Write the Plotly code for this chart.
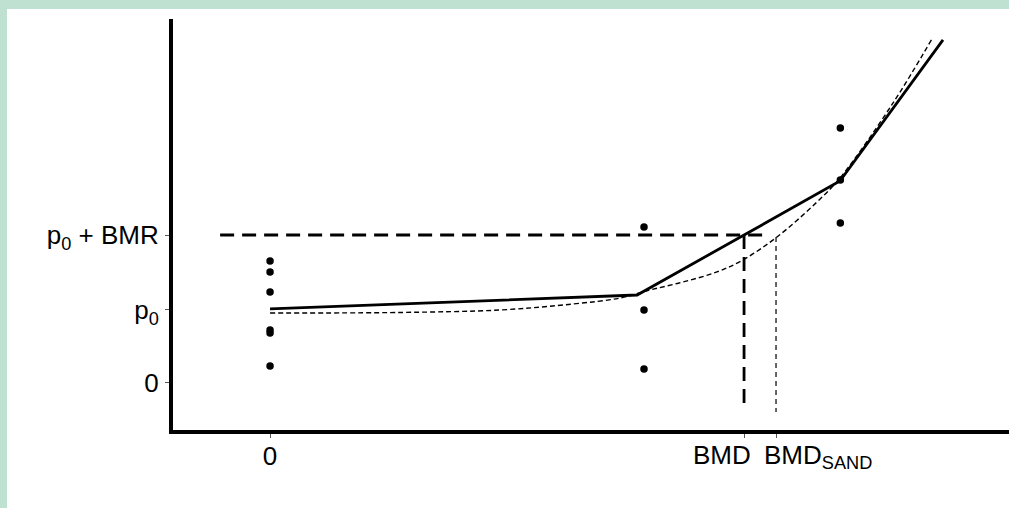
import plotly.graph_objects as go

# ---- data ----
# observed responses
dose_ctrl = [0, 0, 0, 0, 0, 0]
resp_ctrl = [1.671, 1.521, 1.247, 0.726, 0.685, 0.233]
dose_mid = [2.0, 2.0, 2.0]
resp_mid = [2.137, 1.0, 0.192]
dose_high = [3.05, 3.05, 3.05]
resp_high = [3.493, 2.781, 2.192]

# fitted piecewise-linear model (solid)
fit_x = [0, 1.963, 2.535, 3.048, 3.599]
fit_y = [1.014, 1.205, 2.027, 2.767, 4.699]

# SAND model curve (fine dashes)
sand_x = [0, 0.695, 1.230, 1.620, 1.872, 2.032, 2.209, 2.390, 2.529, 2.711, 2.925, 3.048, 3.332, 3.540]
sand_y = [0.959, 0.966, 1.0, 1.082, 1.164, 1.274, 1.384, 1.521, 1.685, 2.0, 2.479, 2.808, 3.836, 4.712]

# reference levels
p0 = 1.0
p0_bmr = 2.027
BMD = 2.535
BMD_SAND = 2.706
hline_x = [-0.267, 2.66]
bmd_drop = [2.027, -0.356]
sand_drop = [2.0, -0.397]

y_tickvals = [0, p0, p0_bmr]
y_ticktext = ["0", "p<sub>0</sub>", "p<sub>0</sub> + BMR"]
x_tickvals = [0, BMD, BMD_SAND]
x_ticktext = ["0", "", ""]

FONT = "Liberation Sans, Arial, sans-serif"
FS = 26
MINT = "#bfe1d2"

fig = go.Figure()

# horizontal p0+BMR level
fig.add_trace(go.Scatter(x=hline_x, y=[p0_bmr, p0_bmr], mode="lines",
                         line=dict(color="black", width=2.8, dash="14px,8px"),
                         hoverinfo="skip"))
# vertical BMD drop
fig.add_trace(go.Scatter(x=[BMD, BMD], y=bmd_drop, mode="lines",
                         line=dict(color="black", width=2.8, dash="14px,8px"),
                         hoverinfo="skip"))
# vertical BMD_SAND drop
fig.add_trace(go.Scatter(x=[BMD_SAND, BMD_SAND], y=sand_drop, mode="lines",
                         line=dict(color="black", width=1.2, dash="5px,4px"),
                         hoverinfo="skip"))
# SAND curve
fig.add_trace(go.Scatter(x=sand_x, y=sand_y, mode="lines", line_shape="spline",
                         line=dict(color="black", width=1.4, dash="5px,3px"),
                         hoverinfo="skip"))
# fitted model
fig.add_trace(go.Scatter(x=fit_x, y=fit_y, mode="lines",
                         line=dict(color="black", width=2.8),
                         hoverinfo="skip"))
# points
for dx, ry in [(dose_ctrl, resp_ctrl), (dose_mid, resp_mid), (dose_high, resp_high)]:
    fig.add_trace(go.Scatter(x=dx, y=ry, mode="markers",
                             marker=dict(color="black", size=7.5)))

# BMD labels (pushed apart as in the reference)
fig.add_annotation(x=BMD, y=0, yref="paper", text="BMD", showarrow=False,
                   xanchor="right", yanchor="top", xshift=9, yshift=-8,
                   font=dict(family=FONT, size=FS, color="black"))
fig.add_annotation(x=BMD_SAND, y=0, yref="paper", text="BMD<sub>SAND</sub>", showarrow=False,
                   xanchor="left", yanchor="top", xshift=-14, yshift=-8,
                   font=dict(family=FONT, size=FS, color="black"))

# mint frame bands (top and left)
L, T, W, H = 173, 19, 836, 411
def px_x(p):
    return (p - L) / W
def px_y(p):
    return (T + H - p) / H
fig.add_shape(type="rect", xref="paper", yref="paper", layer="below",
              x0=px_x(-2), x1=px_x(7), y0=px_y(510), y1=px_y(-2),
              line=dict(width=0), fillcolor=MINT)
fig.add_shape(type="rect", xref="paper", yref="paper", layer="below",
              x0=px_x(-2), x1=px_x(1012), y0=px_y(9), y1=px_y(-2),
              line=dict(width=0), fillcolor=MINT)

fig.update_layout(
    width=1009, height=508,
    margin=dict(l=L, r=0, t=T, b=508 - T - H, pad=0),
    paper_bgcolor="white", plot_bgcolor="white",
    showlegend=False,
    font=dict(family=FONT, size=FS, color="black"),
    xaxis=dict(range=[-0.519, 3.952], showgrid=False, zeroline=False,
               showline=True, linecolor="black", linewidth=4,
               ticks="outside", ticklen=4, tickwidth=1, tickcolor="#555555",
               tickvals=x_tickvals, ticktext=x_ticktext, ticklabelstandoff=-4,
               tickfont=dict(family=FONT, size=FS, color="black")),
    yaxis=dict(range=[-0.644, 4.986], showgrid=False, zeroline=False,
               showline=True, linecolor="black", linewidth=4,
               ticks="outside", ticklen=4, tickwidth=1, tickcolor="#555555",
               tickvals=y_tickvals, ticktext=y_ticktext, ticklabelstandoff=1,
               tickfont=dict(family=FONT, size=FS, color="black")),
)

fig.write_html("out.html", config={"displayModeBar": False},
               post_script="document.body.style.margin='0px';")
